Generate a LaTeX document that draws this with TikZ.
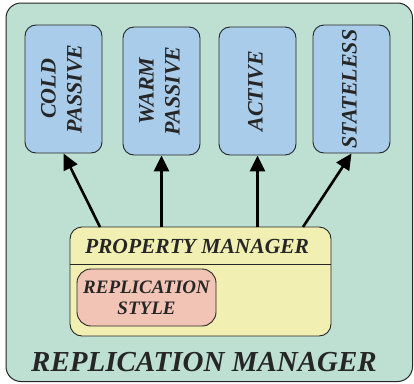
\documentclass[tikz,border=0pt]{standalone}
\usepackage{fontspec}
\setmainfont{Liberation Serif}
\usetikzlibrary{arrows.meta}

\definecolor{rmgreen}{HTML}{BDE0D3}
\definecolor{modeblue}{HTML}{A9CCEB}
\definecolor{pmyellow}{HTML}{F2EFB3}
\definecolor{stylepink}{HTML}{F2C4B5}
\definecolor{ink}{HTML}{262626}

\tikzset{
  mode/.style={draw=ink, line width=0.9pt, fill=modeblue, rounded corners=11pt,
    minimum width=77pt, minimum height=128pt, inner sep=0pt, text=ink,
    font=\bfseries\itshape\fontsize{22}{26}\selectfont},
  manager/.style={draw=ink, line width=0.9pt, fill=pmyellow, rounded corners=12pt,
    minimum width=261pt, minimum height=109pt, inner sep=0pt},
  stylebox/.style={draw=ink, line width=0.9pt, fill=stylepink, rounded corners=14pt,
    minimum width=139pt, minimum height=57pt, inner sep=0pt, align=center, text=ink,
    font=\bfseries\itshape\fontsize{19}{21}\selectfont},
  title/.style={text=ink, inner sep=0pt, font=\bfseries\itshape\fontsize{#1}{#1}\selectfont},
  link/.style={line width=2.6pt, -{Triangle[length=16pt,width=15pt]}}
}

\newcommand{\vlabel}[1]{\rotatebox{90}{\begin{tabular}{@{}c@{}}#1\end{tabular}}}

\begin{document}
\begin{tikzpicture}[x=1pt,y=-1pt]
  \useasboundingbox (0,0) rectangle (414,383);
  % replication manager frame
  \draw[draw=ink, line width=1pt, fill=rmgreen, rounded corners=15pt]
    (6,3) rectangle (412.5,381.5);
  \node[title=29] (rm) at (204,362) {REPLICATION MANAGER};

  % replication modes
  \node[mode] (cold) at (63.5,89) {\vlabel{COLD\\PASSIVE}};
  \node[mode] (warm) at (161.5,91) {\vlabel{WARM\\PASSIVE}};
  \node[mode] (active) at (257.5,91) {\vlabel{ACTIVE}};
  \node[mode] (stateless) at (351.5,89) {\vlabel{STATELESS}};

  % property manager
  \node[manager] (pm) at (200.5,281.5) {};
  \node[title=21.5] (pmlabel) at (197,246) {PROPERTY MANAGER};
  \coordinate (splitl) at (70,264);
  \coordinate (splitr) at (331,264);
  \draw[ink, line width=0.9pt] (splitl) -- (splitr);
  \node[stylebox] (style) at (146.5,297.5) {REPLICATION\\STYLE};

  \coordinate (c1) at (100,227);
  \coordinate (c4) at (303,227);
  \begin{scope}
    \draw[link] (c1) -- (cold.south);
    \draw[link] (warm.south |- pm.north) -- (warm.south);
    \draw[link] (active.south |- pm.north) -- (active.south);
    \draw[link] (c4) -- (stateless.south);
  \end{scope}
\end{tikzpicture}
\end{document}
